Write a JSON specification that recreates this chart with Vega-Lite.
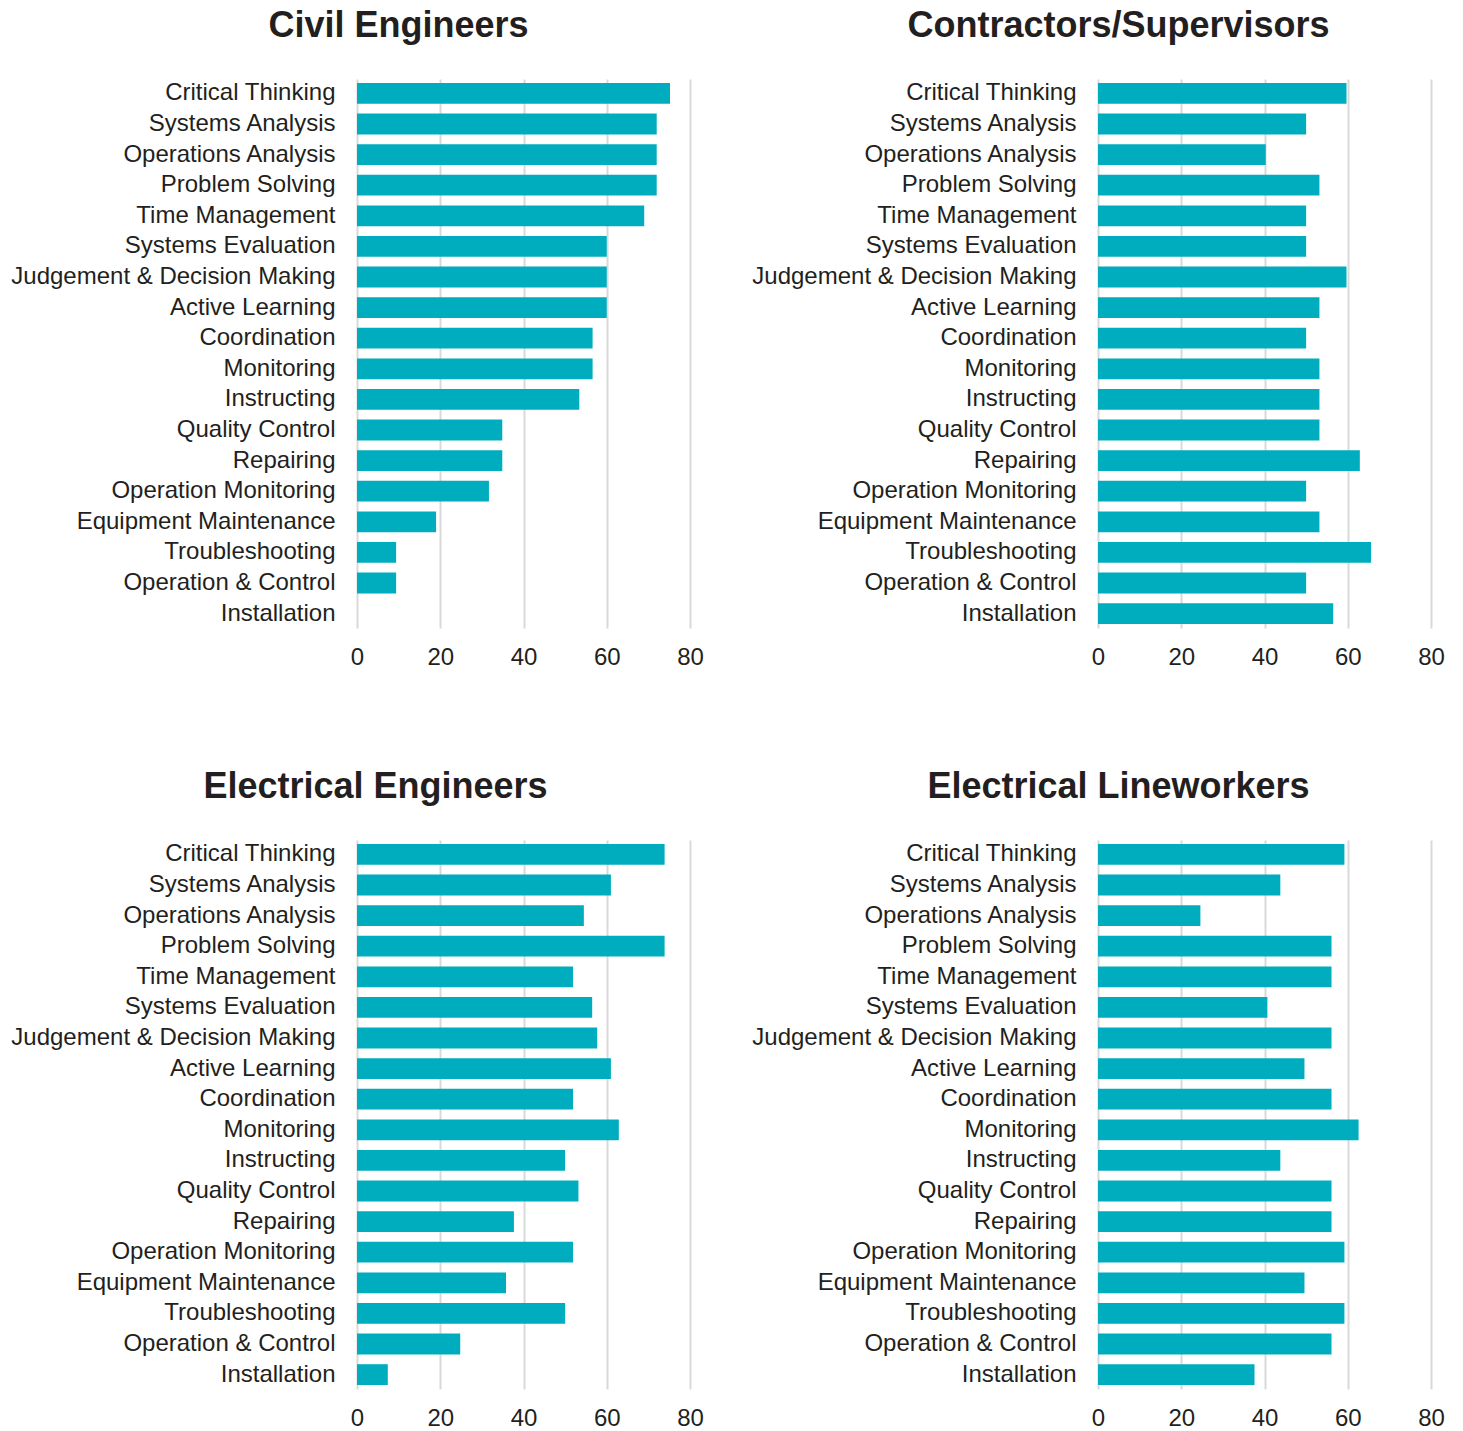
{
  "$schema": "https://vega.github.io/schema/vega-lite/v6.json",
  "padding": {"left": 10, "top": 8, "right": 5, "bottom": 5},
  "background": "white",
  "data": {"values": [
    {"g": "Civil Engineers", "s": "Critical Thinking", "v": 75.2},
    {"g": "Civil Engineers", "s": "Systems Analysis", "v": 72},
    {"g": "Civil Engineers", "s": "Operations Analysis", "v": 72},
    {"g": "Civil Engineers", "s": "Problem Solving", "v": 72},
    {"g": "Civil Engineers", "s": "Time Management", "v": 69},
    {"g": "Civil Engineers", "s": "Systems Evaluation", "v": 60},
    {"g": "Civil Engineers", "s": "Judgement & Decision Making", "v": 60},
    {"g": "Civil Engineers", "s": "Active Learning", "v": 60},
    {"g": "Civil Engineers", "s": "Coordination", "v": 56.6},
    {"g": "Civil Engineers", "s": "Monitoring", "v": 56.6},
    {"g": "Civil Engineers", "s": "Instructing", "v": 53.4},
    {"g": "Civil Engineers", "s": "Quality Control", "v": 34.9},
    {"g": "Civil Engineers", "s": "Repairing", "v": 34.9},
    {"g": "Civil Engineers", "s": "Operation Monitoring", "v": 31.7},
    {"g": "Civil Engineers", "s": "Equipment Maintenance", "v": 19},
    {"g": "Civil Engineers", "s": "Troubleshooting", "v": 9.4},
    {"g": "Civil Engineers", "s": "Operation & Control", "v": 9.4},
    {"g": "Civil Engineers", "s": "Installation", "v": 0},
    {"g": "Contractors/Supervisors", "s": "Critical Thinking", "v": 59.7},
    {"g": "Contractors/Supervisors", "s": "Systems Analysis", "v": 50},
    {"g": "Contractors/Supervisors", "s": "Operations Analysis", "v": 40.3},
    {"g": "Contractors/Supervisors", "s": "Problem Solving", "v": 53.2},
    {"g": "Contractors/Supervisors", "s": "Time Management", "v": 50},
    {"g": "Contractors/Supervisors", "s": "Systems Evaluation", "v": 50},
    {"g": "Contractors/Supervisors", "s": "Judgement & Decision Making", "v": 59.7},
    {"g": "Contractors/Supervisors", "s": "Active Learning", "v": 53.2},
    {"g": "Contractors/Supervisors", "s": "Coordination", "v": 50},
    {"g": "Contractors/Supervisors", "s": "Monitoring", "v": 53.2},
    {"g": "Contractors/Supervisors", "s": "Instructing", "v": 53.2},
    {"g": "Contractors/Supervisors", "s": "Quality Control", "v": 53.2},
    {"g": "Contractors/Supervisors", "s": "Repairing", "v": 62.9},
    {"g": "Contractors/Supervisors", "s": "Operation Monitoring", "v": 50},
    {"g": "Contractors/Supervisors", "s": "Equipment Maintenance", "v": 53.2},
    {"g": "Contractors/Supervisors", "s": "Troubleshooting", "v": 65.6},
    {"g": "Contractors/Supervisors", "s": "Operation & Control", "v": 50},
    {"g": "Contractors/Supervisors", "s": "Installation", "v": 56.5},
    {"g": "Electrical Engineers", "s": "Critical Thinking", "v": 73.9},
    {"g": "Electrical Engineers", "s": "Systems Analysis", "v": 61},
    {"g": "Electrical Engineers", "s": "Operations Analysis", "v": 54.5},
    {"g": "Electrical Engineers", "s": "Problem Solving", "v": 73.9},
    {"g": "Electrical Engineers", "s": "Time Management", "v": 51.9},
    {"g": "Electrical Engineers", "s": "Systems Evaluation", "v": 56.5},
    {"g": "Electrical Engineers", "s": "Judgement & Decision Making", "v": 57.7},
    {"g": "Electrical Engineers", "s": "Active Learning", "v": 61},
    {"g": "Electrical Engineers", "s": "Coordination", "v": 51.9},
    {"g": "Electrical Engineers", "s": "Monitoring", "v": 62.9},
    {"g": "Electrical Engineers", "s": "Instructing", "v": 50},
    {"g": "Electrical Engineers", "s": "Quality Control", "v": 53.2},
    {"g": "Electrical Engineers", "s": "Repairing", "v": 37.7},
    {"g": "Electrical Engineers", "s": "Operation Monitoring", "v": 51.9},
    {"g": "Electrical Engineers", "s": "Equipment Maintenance", "v": 35.8},
    {"g": "Electrical Engineers", "s": "Troubleshooting", "v": 50},
    {"g": "Electrical Engineers", "s": "Operation & Control", "v": 24.8},
    {"g": "Electrical Engineers", "s": "Installation", "v": 7.4},
    {"g": "Electrical Lineworkers", "s": "Critical Thinking", "v": 59.2},
    {"g": "Electrical Lineworkers", "s": "Systems Analysis", "v": 43.8},
    {"g": "Electrical Lineworkers", "s": "Operations Analysis", "v": 24.6},
    {"g": "Electrical Lineworkers", "s": "Problem Solving", "v": 56.1},
    {"g": "Electrical Lineworkers", "s": "Time Management", "v": 56.1},
    {"g": "Electrical Lineworkers", "s": "Systems Evaluation", "v": 40.7},
    {"g": "Electrical Lineworkers", "s": "Judgement & Decision Making", "v": 56.1},
    {"g": "Electrical Lineworkers", "s": "Active Learning", "v": 49.6},
    {"g": "Electrical Lineworkers", "s": "Coordination", "v": 56.1},
    {"g": "Electrical Lineworkers", "s": "Monitoring", "v": 62.6},
    {"g": "Electrical Lineworkers", "s": "Instructing", "v": 43.8},
    {"g": "Electrical Lineworkers", "s": "Quality Control", "v": 56.1},
    {"g": "Electrical Lineworkers", "s": "Repairing", "v": 56.1},
    {"g": "Electrical Lineworkers", "s": "Operation Monitoring", "v": 59.2},
    {"g": "Electrical Lineworkers", "s": "Equipment Maintenance", "v": 49.6},
    {"g": "Electrical Lineworkers", "s": "Troubleshooting", "v": 59.2},
    {"g": "Electrical Lineworkers", "s": "Operation & Control", "v": 56.1},
    {"g": "Electrical Lineworkers", "s": "Installation", "v": 37.6}
  ]},
  "columns": 2,
  "spacing": {"row": 100, "column": 47},
  "concat": [
    {
      "title": {"text": "Civil Engineers", "dx": -125},
      "width": 333, "height": 549,
      "transform": [{"filter": "datum.g == 'Civil Engineers'"}],
      "mark": {"type": "bar", "color": "#00adbe"},
      "encoding": {
        "y": {"field": "s", "type": "nominal", "sort": null, "axis": {"title": null}},
        "x": {"field": "v", "type": "quantitative", "scale": {"domain": [0, 80]}, "axis": {"title": null, "values": [0, 20, 40, 60, 80]}}
      }
    },
    {
      "title": {"text": "Contractors/Supervisors", "dx": -146},
      "width": 333, "height": 549,
      "transform": [{"filter": "datum.g == 'Contractors/Supervisors'"}],
      "mark": {"type": "bar", "color": "#00adbe"},
      "encoding": {
        "y": {"field": "s", "type": "nominal", "sort": null, "axis": {"title": null}},
        "x": {"field": "v", "type": "quantitative", "scale": {"domain": [0, 80]}, "axis": {"title": null, "values": [0, 20, 40, 60, 80]}}
      }
    },
    {
      "title": {"text": "Electrical Engineers", "dx": -148},
      "width": 333, "height": 549,
      "transform": [{"filter": "datum.g == 'Electrical Engineers'"}],
      "mark": {"type": "bar", "color": "#00adbe"},
      "encoding": {
        "y": {"field": "s", "type": "nominal", "sort": null, "axis": {"title": null}},
        "x": {"field": "v", "type": "quantitative", "scale": {"domain": [0, 80]}, "axis": {"title": null, "values": [0, 20, 40, 60, 80]}}
      }
    },
    {
      "title": {"text": "Electrical Lineworkers", "dx": -146},
      "width": 333, "height": 549,
      "transform": [{"filter": "datum.g == 'Electrical Lineworkers'"}],
      "mark": {"type": "bar", "color": "#00adbe"},
      "encoding": {
        "y": {"field": "s", "type": "nominal", "sort": null, "axis": {"title": null}},
        "x": {"field": "v", "type": "quantitative", "scale": {"domain": [0, 80]}, "axis": {"title": null, "values": [0, 20, 40, 60, 80]}}
      }
    }
  ],
  "config": {
    "font": "Liberation Sans",
    "view": {"stroke": null},
    "scale": {"bandPaddingInner": 0.32, "bandPaddingOuter": 0.13},
    "title": {"fontSize": 36, "fontWeight": "bold", "color": "#231f20", "anchor": "middle", "frame": "group", "baseline": "alphabetic", "offset": 34},
    "axis": {"labelFontSize": 24, "labelColor": "#231f20", "domain": false, "ticks": false, "tickSize": 0, "labelFont": "Liberation Sans"},
    "axisY": {"grid": false, "labelPadding": 22, "labelLimit": 600},
    "axisX": {"grid": true, "gridColor": "#d9d9d9", "gridWidth": 2, "labelPadding": 17, "labelFlush": false}
  }
}
